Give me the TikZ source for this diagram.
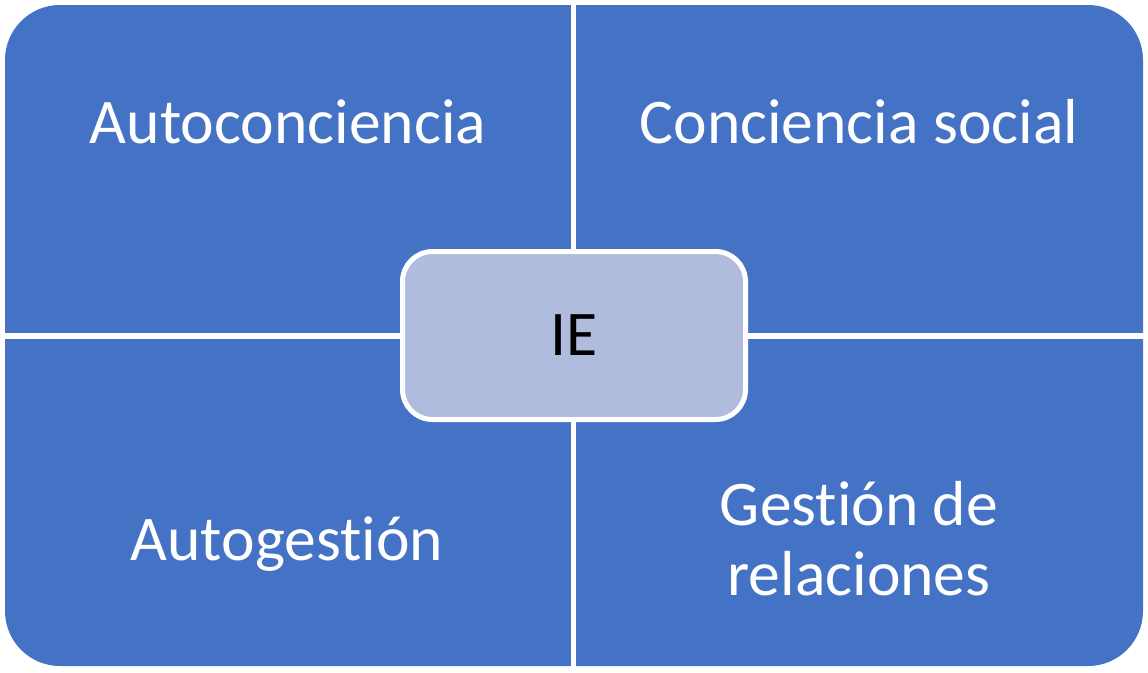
\documentclass[tikz,border=0pt]{standalone}
\usepackage{fontspec}
\setmainfont[Ligatures={NoCommon}]{Carlito}
\definecolor{qblue}{HTML}{4472C4}
\definecolor{cfill}{HTML}{AFBCDD}
\tikzset{
  quadlabel/.style={text=white, font=\fontsize{63.6}{70}\selectfont, anchor=base, inner sep=0pt, align=center},
  centerbox/.style={draw=white, line width=5pt, fill=cfill, rounded corners=30pt,
    minimum width=343pt, minimum height=168pt, font=\fontsize{63.6}{70}\selectfont, text=black}
}
\begin{document}
\begin{tikzpicture}[x=1pt,y=-1pt]
\useasboundingbox (0,0) rectangle (1148,672);
% background with quadrants
\fill[qblue, rounded corners=55pt] (5,5) rectangle (1143,666);
\fill[white] (571,0) rectangle (576,672);
\fill[white] (0,333) rectangle (1148,339);
% labels
\node[quadlabel] (tl) at (288,143) {Autoconciencia};
\node[quadlabel] (tr) at (859,143) {Conciencia social};
\node[quadlabel] (bl) at (287,560) {Autogestión};
\node[quadlabel] (br) at (859,595) {Gestión de\\relaciones};
% center
\node[centerbox] (ie) at (574,335.5) {IE};
\end{tikzpicture}
\end{document}
